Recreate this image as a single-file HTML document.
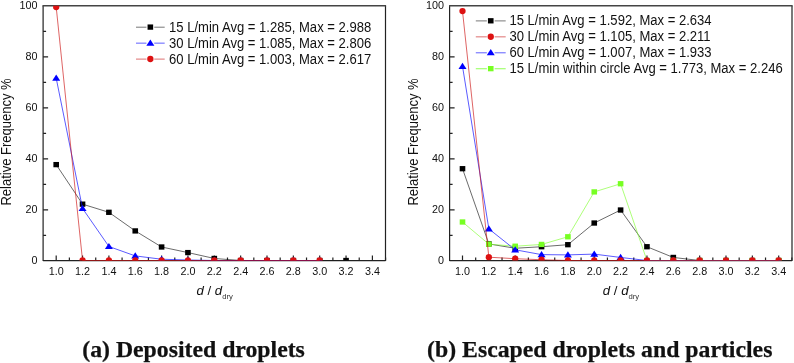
<!DOCTYPE html>
<html><head><meta charset="utf-8"><style>
html,body{margin:0;padding:0;background:#fff;}
body{width:794px;height:363px;overflow:hidden;}
svg{display:block;font-family:"Liberation Sans",Arial,sans-serif;fill:#111;}
</style></head><body>
<svg width="794" height="363" viewBox="0 0 794 363">
<defs><clipPath id="cl"><rect x="43.1" y="5.7" width="342.4" height="254.8"/></clipPath><clipPath id="clL"><rect x="43.1" y="4.7" width="342.4" height="257.8"/></clipPath><clipPath id="cr"><rect x="449.40000000000003" y="5.7" width="342.7999999999999" height="254.8"/></clipPath><clipPath id="crL"><rect x="449.40000000000003" y="4.7" width="342.7999999999999" height="257.8"/></clipPath></defs><path d="M385.5 5.7V260.5H43.1V5.7" fill="none" stroke="#222" stroke-width="1.2"/><path d="M43.1 260.7H385.5" fill="none" stroke="#222" stroke-width="1.2"/><path d="M42.5 5.75H386.1" fill="none" stroke="#444" stroke-width="1.3"/><path d="M56.20 260.5V255.5 M82.55 260.5V255.5 M108.90 260.5V255.5 M135.25 260.5V255.5 M161.60 260.5V255.5 M187.95 260.5V255.5 M214.30 260.5V255.5 M240.65 260.5V255.5 M267.00 260.5V255.5 M293.35 260.5V255.5 M319.70 260.5V255.5 M346.05 260.5V255.5 M372.40 260.5V255.5 M69.38 260.5V257.5 M95.73 260.5V257.5 M122.08 260.5V257.5 M148.43 260.5V257.5 M174.78 260.5V257.5 M201.12 260.5V257.5 M227.48 260.5V257.5 M253.82 260.5V257.5 M280.18 260.5V257.5 M306.53 260.5V257.5 M332.88 260.5V257.5 M359.23 260.5V257.5 M385.58 260.5V257.5 M43.1 209.80H48.1 M43.1 158.80H48.1 M43.1 107.80H48.1 M43.1 56.80H48.1 M43.1 235.40H46.1 M43.1 184.40H46.1 M43.1 133.40H46.1 M43.1 82.40H46.1 M43.1 31.40H46.1" stroke="#222" stroke-width="1.2" fill="none"/><g font-size="10.8"><text transform="translate(37.50,264.20) scale(1,1.04)" text-anchor="end">0</text><text transform="translate(37.50,213.20) scale(1,1.04)" text-anchor="end">20</text><text transform="translate(37.50,162.20) scale(1,1.04)" text-anchor="end">40</text><text transform="translate(37.50,111.20) scale(1,1.04)" text-anchor="end">60</text><text transform="translate(37.50,60.20) scale(1,1.04)" text-anchor="end">80</text><text transform="translate(37.50,9.20) scale(1,1.04)" text-anchor="end">100</text><text transform="translate(56.20,274.50) scale(1,1.04)" text-anchor="middle">1.0</text><text transform="translate(82.55,274.50) scale(1,1.04)" text-anchor="middle">1.2</text><text transform="translate(108.90,274.50) scale(1,1.04)" text-anchor="middle">1.4</text><text transform="translate(135.25,274.50) scale(1,1.04)" text-anchor="middle">1.6</text><text transform="translate(161.60,274.50) scale(1,1.04)" text-anchor="middle">1.8</text><text transform="translate(187.95,274.50) scale(1,1.04)" text-anchor="middle">2.0</text><text transform="translate(214.30,274.50) scale(1,1.04)" text-anchor="middle">2.2</text><text transform="translate(240.65,274.50) scale(1,1.04)" text-anchor="middle">2.4</text><text transform="translate(267.00,274.50) scale(1,1.04)" text-anchor="middle">2.6</text><text transform="translate(293.35,274.50) scale(1,1.04)" text-anchor="middle">2.8</text><text transform="translate(319.70,274.50) scale(1,1.04)" text-anchor="middle">3.0</text><text transform="translate(346.05,274.50) scale(1,1.04)" text-anchor="middle">3.2</text><text transform="translate(372.40,274.50) scale(1,1.04)" text-anchor="middle">3.4</text></g><text x="196.5" y="294.8" font-size="13.2"><tspan font-style="italic">d</tspan> / <tspan font-style="italic">d</tspan><tspan font-size="7.7" dy="4.4" fill="#333">dry</tspan></text><text transform="translate(11.30,142.00) rotate(-90) scale(1,1.07)" text-anchor="middle" font-size="13">Relative Frequency %</text><path d="M792.0 5.7V260.5H449.6V5.7" fill="none" stroke="#222" stroke-width="1.2"/><path d="M449.6 260.7H792.0" fill="none" stroke="#222" stroke-width="1.2"/><path d="M449.0 5.75H792.6" fill="none" stroke="#444" stroke-width="1.3"/><path d="M462.50 260.5V255.5 M488.85 260.5V255.5 M515.20 260.5V255.5 M541.55 260.5V255.5 M567.90 260.5V255.5 M594.25 260.5V255.5 M620.60 260.5V255.5 M646.95 260.5V255.5 M673.30 260.5V255.5 M699.65 260.5V255.5 M726.00 260.5V255.5 M752.35 260.5V255.5 M778.70 260.5V255.5 M475.68 260.5V257.5 M502.03 260.5V257.5 M528.38 260.5V257.5 M554.73 260.5V257.5 M581.08 260.5V257.5 M607.42 260.5V257.5 M633.78 260.5V257.5 M660.12 260.5V257.5 M686.48 260.5V257.5 M712.83 260.5V257.5 M739.17 260.5V257.5 M765.53 260.5V257.5 M791.88 260.5V257.5 M449.6 209.80H454.6 M449.6 158.80H454.6 M449.6 107.80H454.6 M449.6 56.80H454.6 M449.6 235.40H452.6 M449.6 184.40H452.6 M449.6 133.40H452.6 M449.6 82.40H452.6 M449.6 31.40H452.6" stroke="#222" stroke-width="1.2" fill="none"/><g font-size="10.8"><text transform="translate(444.00,264.20) scale(1,1.04)" text-anchor="end">0</text><text transform="translate(444.00,213.20) scale(1,1.04)" text-anchor="end">20</text><text transform="translate(444.00,162.20) scale(1,1.04)" text-anchor="end">40</text><text transform="translate(444.00,111.20) scale(1,1.04)" text-anchor="end">60</text><text transform="translate(444.00,60.20) scale(1,1.04)" text-anchor="end">80</text><text transform="translate(444.00,9.20) scale(1,1.04)" text-anchor="end">100</text><text transform="translate(462.50,274.50) scale(1,1.04)" text-anchor="middle">1.0</text><text transform="translate(488.85,274.50) scale(1,1.04)" text-anchor="middle">1.2</text><text transform="translate(515.20,274.50) scale(1,1.04)" text-anchor="middle">1.4</text><text transform="translate(541.55,274.50) scale(1,1.04)" text-anchor="middle">1.6</text><text transform="translate(567.90,274.50) scale(1,1.04)" text-anchor="middle">1.8</text><text transform="translate(594.25,274.50) scale(1,1.04)" text-anchor="middle">2.0</text><text transform="translate(620.60,274.50) scale(1,1.04)" text-anchor="middle">2.2</text><text transform="translate(646.95,274.50) scale(1,1.04)" text-anchor="middle">2.4</text><text transform="translate(673.30,274.50) scale(1,1.04)" text-anchor="middle">2.6</text><text transform="translate(699.65,274.50) scale(1,1.04)" text-anchor="middle">2.8</text><text transform="translate(726.00,274.50) scale(1,1.04)" text-anchor="middle">3.0</text><text transform="translate(752.35,274.50) scale(1,1.04)" text-anchor="middle">3.2</text><text transform="translate(778.70,274.50) scale(1,1.04)" text-anchor="middle">3.4</text></g><text x="602.8" y="294.8" font-size="13.2"><tspan font-style="italic">d</tspan> / <tspan font-style="italic">d</tspan><tspan font-size="7.7" dy="4.4" fill="#333">dry</tspan></text><text transform="translate(417.60,142.00) rotate(-90) scale(1,1.07)" text-anchor="middle" font-size="13">Relative Frequency %</text><polyline points="56.20,164.62 82.55,204.15 108.90,212.31 135.25,230.92 161.60,246.99 187.95,252.59 214.30,258.46 240.65,260.50 267.00,260.50 293.35,260.50 319.70,260.50 346.05,260.50" fill="none" stroke="#1a1a1a" stroke-width="0.65" clip-path="url(#clL)"/><g clip-path="url(#cl)"><rect x="53.40" y="161.97" width="5.6" height="5.3" fill="#000"/><rect x="79.75" y="201.50" width="5.6" height="5.3" fill="#000"/><rect x="106.10" y="209.66" width="5.6" height="5.3" fill="#000"/><rect x="132.45" y="228.27" width="5.6" height="5.3" fill="#000"/><rect x="158.80" y="244.34" width="5.6" height="5.3" fill="#000"/><rect x="185.15" y="249.94" width="5.6" height="5.3" fill="#000"/><rect x="211.50" y="255.81" width="5.6" height="5.3" fill="#000"/><rect x="237.85" y="257.85" width="5.6" height="5.3" fill="#000"/><rect x="264.20" y="257.85" width="5.6" height="5.3" fill="#000"/><rect x="290.55" y="257.85" width="5.6" height="5.3" fill="#000"/><rect x="316.90" y="257.85" width="5.6" height="5.3" fill="#000"/><rect x="343.25" y="257.85" width="5.6" height="5.3" fill="#000"/></g><polyline points="56.20,78.18 82.55,208.48 108.90,246.47 135.25,255.91 161.60,259.23 187.95,259.99 214.30,260.50 240.65,260.50 267.00,260.50 293.35,260.50 319.70,260.50" fill="none" stroke="#0000ff" stroke-width="0.65" clip-path="url(#clL)"/><g clip-path="url(#cl)"><path d="M56.20 74.58L60.20 80.78L52.20 80.78Z" fill="#0000ff"/><path d="M82.55 204.88L86.55 211.08L78.55 211.08Z" fill="#0000ff"/><path d="M108.90 242.88L112.90 249.07L104.90 249.07Z" fill="#0000ff"/><path d="M135.25 252.31L139.25 258.51L131.25 258.51Z" fill="#0000ff"/><path d="M161.60 255.63L165.60 261.83L157.60 261.83Z" fill="#0000ff"/><path d="M187.95 256.39L191.95 262.59L183.95 262.59Z" fill="#0000ff"/><path d="M214.30 256.90L218.30 263.10L210.30 263.10Z" fill="#0000ff"/><path d="M240.65 256.90L244.65 263.10L236.65 263.10Z" fill="#0000ff"/><path d="M267.00 256.90L271.00 263.10L263.00 263.10Z" fill="#0000ff"/><path d="M293.35 256.90L297.35 263.10L289.35 263.10Z" fill="#0000ff"/><path d="M319.70 256.90L323.70 263.10L315.70 263.10Z" fill="#0000ff"/></g><polyline points="56.20,7.03 82.55,260.50 108.90,260.50 135.25,260.50 161.60,260.50 187.95,260.50 214.30,260.50 240.65,260.50 267.00,260.50 293.35,260.50 319.70,260.50" fill="none" stroke="#cc1111" stroke-width="0.65" clip-path="url(#clL)"/><g clip-path="url(#cl)"><circle cx="56.20" cy="7.03" r="3.15" fill="#dd1111"/><circle cx="82.55" cy="260.50" r="3.15" fill="#dd1111"/><circle cx="108.90" cy="260.50" r="3.15" fill="#dd1111"/><circle cx="135.25" cy="260.50" r="3.15" fill="#dd1111"/><circle cx="161.60" cy="260.50" r="3.15" fill="#dd1111"/><circle cx="187.95" cy="260.50" r="3.15" fill="#dd1111"/><circle cx="214.30" cy="260.50" r="3.15" fill="#dd1111"/><circle cx="240.65" cy="260.50" r="3.15" fill="#dd1111"/><circle cx="267.00" cy="260.50" r="3.15" fill="#dd1111"/><circle cx="293.35" cy="260.50" r="3.15" fill="#dd1111"/><circle cx="319.70" cy="260.50" r="3.15" fill="#dd1111"/></g><polyline points="462.50,168.70 488.85,243.93 515.20,248.26 541.55,246.73 567.90,244.69 594.25,223.02 620.60,210.01 646.95,246.73 673.30,257.44 699.65,260.50 726.00,260.50 752.35,260.50 778.70,260.50" fill="none" stroke="#1a1a1a" stroke-width="0.65" clip-path="url(#crL)"/><g clip-path="url(#cr)"><rect x="459.70" y="166.05" width="5.6" height="5.3" fill="#000"/><rect x="486.05" y="241.28" width="5.6" height="5.3" fill="#000"/><rect x="512.40" y="245.61" width="5.6" height="5.3" fill="#000"/><rect x="538.75" y="244.08" width="5.6" height="5.3" fill="#000"/><rect x="565.10" y="242.04" width="5.6" height="5.3" fill="#000"/><rect x="591.45" y="220.37" width="5.6" height="5.3" fill="#000"/><rect x="617.80" y="207.36" width="5.6" height="5.3" fill="#000"/><rect x="644.15" y="244.08" width="5.6" height="5.3" fill="#000"/><rect x="670.50" y="254.79" width="5.6" height="5.3" fill="#000"/><rect x="696.85" y="257.85" width="5.6" height="5.3" fill="#000"/><rect x="723.20" y="257.85" width="5.6" height="5.3" fill="#000"/><rect x="749.55" y="257.85" width="5.6" height="5.3" fill="#000"/><rect x="775.90" y="257.85" width="5.6" height="5.3" fill="#000"/></g><polyline points="462.50,222.00 488.85,244.18 515.20,246.22 541.55,244.44 567.90,236.78 594.25,191.91 620.60,183.75 646.95,260.50 673.30,260.50 699.65,260.50 726.00,260.50 752.35,260.50 778.70,260.50" fill="none" stroke="#80ff30" stroke-width="0.65" clip-path="url(#crL)"/><g clip-path="url(#cr)"><rect x="459.70" y="219.34" width="5.6" height="5.3" fill="#77ff22"/><rect x="486.05" y="241.53" width="5.6" height="5.3" fill="#77ff22"/><rect x="512.40" y="243.57" width="5.6" height="5.3" fill="#77ff22"/><rect x="538.75" y="241.78" width="5.6" height="5.3" fill="#77ff22"/><rect x="565.10" y="234.13" width="5.6" height="5.3" fill="#77ff22"/><rect x="591.45" y="189.26" width="5.6" height="5.3" fill="#77ff22"/><rect x="617.80" y="181.09" width="5.6" height="5.3" fill="#77ff22"/><rect x="644.15" y="257.85" width="5.6" height="5.3" fill="#77ff22"/><rect x="670.50" y="257.85" width="5.6" height="5.3" fill="#77ff22"/><rect x="696.85" y="257.85" width="5.6" height="5.3" fill="#77ff22"/><rect x="723.20" y="257.85" width="5.6" height="5.3" fill="#77ff22"/><rect x="749.55" y="257.85" width="5.6" height="5.3" fill="#77ff22"/><rect x="775.90" y="257.85" width="5.6" height="5.3" fill="#77ff22"/></g><polyline points="462.50,66.32 488.85,228.88 515.20,249.79 541.55,254.63 567.90,254.89 594.25,254.12 620.60,257.44 646.95,260.50 673.30,260.50 699.65,260.50 726.00,260.50 752.35,260.50 778.70,260.50" fill="none" stroke="#0000ff" stroke-width="0.65" clip-path="url(#crL)"/><g clip-path="url(#cr)"><path d="M462.50 62.72L466.50 68.92L458.50 68.92Z" fill="#0000ff"/><path d="M488.85 225.28L492.85 231.48L484.85 231.48Z" fill="#0000ff"/><path d="M515.20 246.19L519.20 252.39L511.20 252.39Z" fill="#0000ff"/><path d="M541.55 251.03L545.55 257.24L537.55 257.24Z" fill="#0000ff"/><path d="M567.90 251.29L571.90 257.49L563.90 257.49Z" fill="#0000ff"/><path d="M594.25 250.53L598.25 256.73L590.25 256.73Z" fill="#0000ff"/><path d="M620.60 253.84L624.60 260.04L616.60 260.04Z" fill="#0000ff"/><path d="M646.95 256.90L650.95 263.10L642.95 263.10Z" fill="#0000ff"/><path d="M673.30 256.90L677.30 263.10L669.30 263.10Z" fill="#0000ff"/><path d="M699.65 256.90L703.65 263.10L695.65 263.10Z" fill="#0000ff"/><path d="M726.00 256.90L730.00 263.10L722.00 263.10Z" fill="#0000ff"/><path d="M752.35 256.90L756.35 263.10L748.35 263.10Z" fill="#0000ff"/><path d="M778.70 256.90L782.70 263.10L774.70 263.10Z" fill="#0000ff"/></g><polyline points="462.50,11.11 488.85,257.19 515.20,258.71 541.55,259.74 567.90,260.50 594.25,260.50 620.60,260.50 646.95,260.50 673.30,260.50 699.65,260.50 726.00,260.50 752.35,260.50 778.70,260.50" fill="none" stroke="#cc1111" stroke-width="0.65" clip-path="url(#crL)"/><g clip-path="url(#cr)"><circle cx="462.50" cy="11.11" r="3.15" fill="#dd1111"/><circle cx="488.85" cy="257.19" r="3.15" fill="#dd1111"/><circle cx="515.20" cy="258.71" r="3.15" fill="#dd1111"/><circle cx="541.55" cy="259.74" r="3.15" fill="#dd1111"/><circle cx="567.90" cy="260.50" r="3.15" fill="#dd1111"/><circle cx="594.25" cy="260.50" r="3.15" fill="#dd1111"/><circle cx="620.60" cy="260.50" r="3.15" fill="#dd1111"/><circle cx="646.95" cy="260.50" r="3.15" fill="#dd1111"/><circle cx="673.30" cy="260.50" r="3.15" fill="#dd1111"/><circle cx="699.65" cy="260.50" r="3.15" fill="#dd1111"/><circle cx="726.00" cy="260.50" r="3.15" fill="#dd1111"/><circle cx="752.35" cy="260.50" r="3.15" fill="#dd1111"/><circle cx="778.70" cy="260.50" r="3.15" fill="#dd1111"/></g><path d="M136 27.20H146.45M154.25 27.20H164.7" stroke="#787878" stroke-width="1"/><rect x="147.55" y="24.45" width="5.6" height="5.3" fill="#000"/><text transform="translate(169.00,31.70) scale(1,1.07)" font-size="13.07">15 L/min Avg = 1.285, Max = 2.988</text><path d="M136 43.15H146.45M154.25 43.15H164.7" stroke="#6060ff" stroke-width="1"/><path d="M150.35 39.45L154.35 45.65L146.35 45.65Z" fill="#0000ff"/><text transform="translate(169.00,47.65) scale(1,1.07)" font-size="13.07">30 L/min Avg = 1.085, Max = 2.806</text><path d="M136 59.10H146.45M154.25 59.10H164.7" stroke="#dd6f6f" stroke-width="1"/><circle cx="150.35" cy="59.00" r="3.15" fill="#dd1111"/><text transform="translate(169.00,63.60) scale(1,1.07)" font-size="13.07">60 L/min Avg = 1.003, Max = 2.617</text><path d="M475.8 20.90H486.85M494.65 20.90H505.7" stroke="#787878" stroke-width="1"/><rect x="487.95" y="18.15" width="5.6" height="5.3" fill="#000"/><text transform="translate(509.40,25.40) scale(1,1.07)" font-size="13.07">15 L/min Avg = 1.592, Max = 2.634</text><path d="M475.8 36.85H486.85M494.65 36.85H505.7" stroke="#dd6f6f" stroke-width="1"/><circle cx="490.75" cy="36.75" r="3.15" fill="#dd1111"/><text transform="translate(509.40,41.35) scale(1,1.07)" font-size="13.07">30 L/min Avg = 1.105, Max = 2.211</text><path d="M475.8 52.80H486.85M494.65 52.80H505.7" stroke="#6060ff" stroke-width="1"/><path d="M490.75 49.10L494.75 55.30L486.75 55.30Z" fill="#0000ff"/><text transform="translate(509.40,57.30) scale(1,1.07)" font-size="13.07">60 L/min Avg = 1.007, Max = 1.933</text><path d="M475.8 68.75H486.85M494.65 68.75H505.7" stroke="#90ff55" stroke-width="1"/><rect x="487.95" y="66.00" width="5.6" height="5.3" fill="#77ff22"/><text transform="translate(509.40,73.25) scale(1,1.07)" font-size="13.07">15 L/min within circle Avg = 1.773, Max = 2.246</text><text x="82.3" y="356.7" font-family="'Liberation Serif', serif" font-weight="bold" font-size="23.75" stroke="#111" stroke-width="0.25">(a) Deposited droplets</text><text x="427.1" y="356.7" font-family="'Liberation Serif', serif" font-weight="bold" font-size="23.75" stroke="#111" stroke-width="0.25">(b) Escaped droplets and particles</text>
</svg>
</body></html>
